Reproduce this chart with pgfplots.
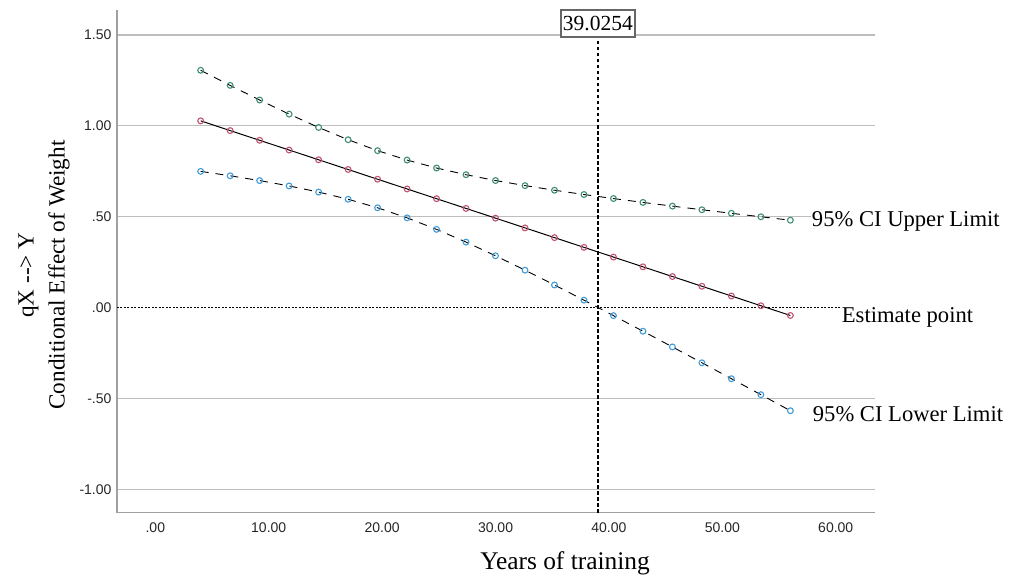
\documentclass[border=0pt]{standalone}
\usepackage{fontspec}
\setmainfont{Liberation Serif}
\newfontfamily\arialf{Liberation Sans}
\usepackage{pgfplots}
\pgfplotsset{compat=1.18}
\definecolor{gridc}{HTML}{BDBDBD}
\definecolor{axc}{HTML}{A0A0A0}
\definecolor{upc}{HTML}{3E8C74}
\definecolor{estc}{HTML}{C2516F}
\definecolor{loc}{HTML}{3F9BD6}
\begin{document}
\begin{tikzpicture}
\begin{axis}[
 x=11.34pt, y=181.7pt,
 xmin=-3.38, xmax=63.47, ymin=-1.128, ymax=1.638,
 axis x line=bottom, axis y line=left,
 axis line style={-, color=axc, line width=1.2pt},
 major tick length=0pt,
 xtick={0,10,20,30,40,50,60},
 xticklabels={.00,10.00,20.00,30.00,40.00,50.00,60.00},
 ytick={-1,-0.5,0.5,1,1.5},
 yticklabels={-1.00,-.50,.50,1.00,1.50},
 extra y ticks={0}, extra y tick labels={.00},
 extra y tick style={grid=none},
 ymajorgrids, grid style={gridc, line width=1.2pt},
 ticklabel style={font=\arialf\fontsize{14}{16}\selectfont, text=black!85},
 xticklabel style={yshift=-6.5pt},
 yticklabel style={xshift=-2pt},
 clip=false,
]
\draw[black, line width=0.6pt, dash pattern=on 2pt off 1.5pt] (axis cs:-3.38,0) -- (axis cs:60.5,0);
\draw[black, line width=1.3pt, dash pattern=on 3.5pt off 2.5pt] (axis cs:39.0254,-1.128) -- (axis cs:39.0254,1.55);

\addplot[black, line width=0.9pt, dash pattern=on 8pt off 7pt, mark=o, mark size=2.9pt, mark options={solid, upc, line width=1.1pt}] table {
x y
4.0 1.3056
6.6 1.2227
9.2 1.1421
11.8 1.0645
14.4 0.9911
17.0 0.9236
19.6 0.8634
22.2 0.8117
24.8 0.7679
27.4 0.7310
30.0 0.6991
32.6 0.6710
35.2 0.6456
37.8 0.6220
40.4 0.5999
43.0 0.5786
45.6 0.5581
48.2 0.5382
50.8 0.5187
53.4 0.4995
56.0 0.4806
};
\addplot[black, line width=0.9pt, dash pattern=on 8pt off 7pt, mark=o, mark size=2.9pt, mark options={solid, loc, line width=1.1pt}] table {
x y
4.0 0.7494
6.6 0.7251
9.2 0.6987
11.8 0.6693
14.4 0.6355
17.0 0.5960
19.6 0.5490
22.2 0.4937
24.8 0.4303
27.4 0.3602
30.0 0.2849
32.6 0.2058
35.2 0.1242
37.8 0.0406
40.4 -0.0443
43.0 -0.1302
45.6 -0.2167
48.2 -0.3040
50.8 -0.3915
53.4 -0.4795
56.0 -0.5678
};
\addplot[black, line width=1.0pt, mark=o, mark size=2.9pt, mark options={solid, estc, line width=1.1pt}] table {
x y
4.0 1.0275
6.6 0.9739
9.2 0.9204
11.8 0.8669
14.4 0.8133
17.0 0.7598
19.6 0.7062
22.2 0.6527
24.8 0.5991
27.4 0.5456
30.0 0.4920
32.6 0.4384
35.2 0.3849
37.8 0.3313
40.4 0.2778
43.0 0.2242
45.6 0.1707
48.2 0.1171
50.8 0.0636
53.4 0.0100
56.0 -0.0436
};

\node[draw=black!60, line width=1.4pt, fill=white, minimum width=74pt, minimum height=27pt, inner sep=0pt, font=\fontsize{21.5}{24}\selectfont] at (axis cs:39.0254,1.563) {39.0254};

\node[anchor=base west, fill=white, inner sep=1pt, font=\fontsize{22.6}{24}\selectfont] at (axis cs:57.8,0.4436) {95\% CI Upper Limit};
\node[anchor=base west, fill=white, inner sep=1pt, font=\fontsize{22.6}{24}\selectfont] at (axis cs:60.44,-0.0848) {Estimate point};
\node[anchor=base west, fill=white, inner sep=1pt, font=\fontsize{22.6}{24}\selectfont] at (axis cs:57.88,-0.6296) {95\% CI Lower Limit};

\node[rotate=90, align=center, font=\fontsize{23.2}{31}\selectfont] at (axis cs:-9.815,0.179) {qX {-}{-}> Y\\Conditional Effect of Weight};
\node[anchor=base, font=\fontsize{25.4}{28}\selectfont] at (axis cs:36.13,-1.444) {Years of training};

\coordinate (bbl) at (axis cs:-13.695,-1.505);
\coordinate (btr) at (axis cs:76.16,1.6926);
\end{axis}
\pgfresetboundingbox
\path[use as bounding box] (bbl) rectangle (btr);
\end{tikzpicture}
\end{document}
